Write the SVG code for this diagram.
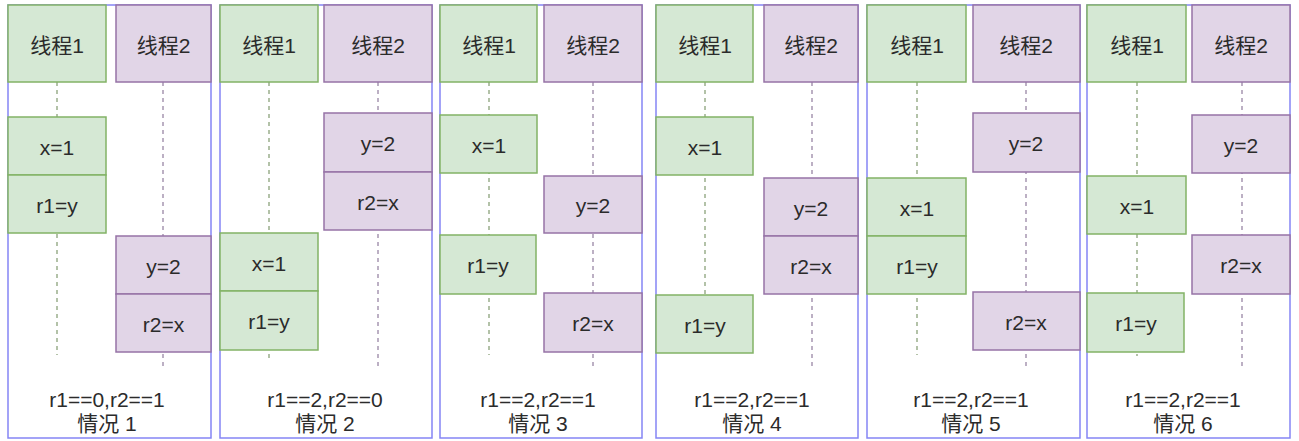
<svg xmlns="http://www.w3.org/2000/svg" width="1299" height="441" viewBox="0 0 1299 441">
  <style>
    text { font-family: "Liberation Sans", "Noto Sans CJK SC", sans-serif; fill: #2b2b2b; text-anchor: middle; dominant-baseline: central; }
    .hdr { font-size: 21px; }
    .op { font-size: 21px; }
    .res { font-size: 21px; }
    .frame { fill: #ffffff; stroke: #8585f5; stroke-width: 1.5; }
    .t1 { fill: #d5e8d4; stroke: #82b366; stroke-width: 1.5; }
    .t2 { fill: #e1d5e7; stroke: #9673a6; stroke-width: 1.5; }
    .life1 { fill: none; stroke: #9aae8c; stroke-width: 1.5; stroke-dasharray: 4 4; }
    .life2 { fill: none; stroke: #a796b1; stroke-width: 1.5; stroke-dasharray: 4 4; }
  </style>
  <rect width="1299" height="441" fill="#ffffff"/>

  <!-- case frames -->
  <g id="frames">
    <rect class="frame" x="8" y="5" width="203" height="433"/>
    <rect class="frame" x="220" y="5" width="212" height="433"/>
    <rect class="frame" x="440" y="5" width="202" height="433"/>
    <rect class="frame" x="656" y="5" width="202" height="433"/>
    <rect class="frame" x="867" y="5" width="213" height="433"/>
    <rect class="frame" x="1087" y="5" width="203" height="433"/>
  </g>

  <!-- lifelines -->
  <g id="connectors">
    <line class="life1" x1="57" y1="82" x2="57" y2="355"/>
    <line class="life2" x1="163" y1="82" x2="163" y2="368"/>
    <line class="life1" x1="269" y1="82" x2="269" y2="358"/>
    <line class="life2" x1="378" y1="82" x2="378" y2="368"/>
    <line class="life1" x1="489" y1="82" x2="489" y2="355"/>
    <line class="life2" x1="593" y1="82" x2="593" y2="368"/>
    <line class="life1" x1="705" y1="82" x2="705" y2="353"/>
    <line class="life2" x1="812" y1="82" x2="812" y2="368"/>
    <line class="life1" x1="917" y1="82" x2="917" y2="355"/>
    <line class="life2" x1="1026" y1="82" x2="1026" y2="368"/>
    <line class="life1" x1="1137" y1="82" x2="1137" y2="356"/>
    <line class="life2" x1="1242" y1="82" x2="1242" y2="368"/>
  </g>

  <!-- case 1 -->
  <g id="case1">
    <g id="c1-thread1"><rect class="t1" x="8" y="5" width="98" height="77"/><text class="hdr" x="57" y="45">线程1</text></g>
    <g id="c1-thread2"><rect class="t2" x="116" y="5" width="95" height="77"/><text class="hdr" x="163.5" y="45">线程2</text></g>
    <g id="c1-x1"><rect class="t1" x="8" y="117" width="98" height="58"/><text class="op" x="57" y="147">x=1</text></g>
    <g id="c1-r1y"><rect class="t1" x="8" y="175" width="98" height="58"/><text class="op" x="57" y="205">r1=y</text></g>
    <g id="c1-y2"><rect class="t2" x="116" y="236" width="95" height="58"/><text class="op" x="163.5" y="266">y=2</text></g>
    <g id="c1-r2x"><rect class="t2" x="116" y="294" width="95" height="58"/><text class="op" x="163.5" y="324">r2=x</text></g>
    <g id="c1-result"><text class="res" x="107" y="399">r1==0,r2==1</text><text class="res" x="107" y="423">情况 1</text></g>
  </g>

  <!-- case 2 -->
  <g id="case2">
    <g id="c2-thread1"><rect class="t1" x="220" y="5" width="98" height="77"/><text class="hdr" x="269" y="45">线程1</text></g>
    <g id="c2-thread2"><rect class="t2" x="324" y="5" width="108" height="77"/><text class="hdr" x="378" y="45">线程2</text></g>
    <g id="c2-y2"><rect class="t2" x="324" y="113" width="108" height="59"/><text class="op" x="378" y="143">y=2</text></g>
    <g id="c2-r2x"><rect class="t2" x="324" y="172" width="108" height="58"/><text class="op" x="378" y="202">r2=x</text></g>
    <g id="c2-x1"><rect class="t1" x="220" y="233" width="98" height="58"/><text class="op" x="269" y="263">x=1</text></g>
    <g id="c2-r1y"><rect class="t1" x="220" y="291" width="98" height="59"/><text class="op" x="269" y="321">r1=y</text></g>
    <g id="c2-result"><text class="res" x="325" y="399">r1==2,r2==0</text><text class="res" x="325" y="423">情况 2</text></g>
  </g>

  <!-- case 3 -->
  <g id="case3">
    <g id="c3-thread1"><rect class="t1" x="440" y="5" width="97" height="77"/><text class="hdr" x="489" y="45">线程1</text></g>
    <g id="c3-thread2"><rect class="t2" x="544" y="5" width="98" height="77"/><text class="hdr" x="593" y="45">线程2</text></g>
    <g id="c3-x1"><rect class="t1" x="440" y="115" width="97" height="58"/><text class="op" x="489" y="145">x=1</text></g>
    <g id="c3-y2"><rect class="t2" x="544" y="176" width="98" height="57"/><text class="op" x="593" y="205">y=2</text></g>
    <g id="c3-r1y"><rect class="t1" x="440" y="235" width="96" height="59"/><text class="op" x="488" y="265">r1=y</text></g>
    <g id="c3-r2x"><rect class="t2" x="544" y="293" width="98" height="59"/><text class="op" x="593" y="323">r2=x</text></g>
    <g id="c3-result"><text class="res" x="538" y="399">r1==2,r2==1</text><text class="res" x="538" y="423">情况 3</text></g>
  </g>

  <!-- case 4 -->
  <g id="case4">
    <g id="c4-thread1"><rect class="t1" x="656" y="5" width="97" height="77"/><text class="hdr" x="705" y="45">线程1</text></g>
    <g id="c4-thread2"><rect class="t2" x="764" y="5" width="94" height="77"/><text class="hdr" x="811" y="45">线程2</text></g>
    <g id="c4-x1"><rect class="t1" x="656" y="117" width="97" height="58"/><text class="op" x="705" y="147">x=1</text></g>
    <g id="c4-y2"><rect class="t2" x="764" y="178" width="94" height="58"/><text class="op" x="811" y="208">y=2</text></g>
    <g id="c4-r2x"><rect class="t2" x="764" y="236" width="94" height="58"/><text class="op" x="811" y="266">r2=x</text></g>
    <g id="c4-r1y"><rect class="t1" x="656" y="295" width="97" height="58"/><text class="op" x="705" y="325">r1=y</text></g>
    <g id="c4-result"><text class="res" x="752" y="399">r1==2,r2==1</text><text class="res" x="752" y="423">情况 4</text></g>
  </g>

  <!-- case 5 -->
  <g id="case5">
    <g id="c5-thread1"><rect class="t1" x="867" y="5" width="99" height="77"/><text class="hdr" x="917" y="45">线程1</text></g>
    <g id="c5-thread2"><rect class="t2" x="973" y="5" width="107" height="77"/><text class="hdr" x="1026" y="45">线程2</text></g>
    <g id="c5-y2"><rect class="t2" x="973" y="113" width="107" height="59"/><text class="op" x="1026" y="143">y=2</text></g>
    <g id="c5-x1"><rect class="t1" x="867" y="178" width="99" height="58"/><text class="op" x="917" y="208">x=1</text></g>
    <g id="c5-r1y"><rect class="t1" x="867" y="236" width="99" height="58"/><text class="op" x="917" y="266">r1=y</text></g>
    <g id="c5-r2x"><rect class="t2" x="973" y="292" width="107" height="58"/><text class="op" x="1026" y="322">r2=x</text></g>
    <g id="c5-result"><text class="res" x="971" y="399">r1==2,r2==1</text><text class="res" x="971" y="423">情况 5</text></g>
  </g>

  <!-- case 6 -->
  <g id="case6">
    <g id="c6-thread1"><rect class="t1" x="1087" y="5" width="99" height="77"/><text class="hdr" x="1137" y="45">线程1</text></g>
    <g id="c6-thread2"><rect class="t2" x="1192" y="5" width="98" height="77"/><text class="hdr" x="1241" y="45">线程2</text></g>
    <g id="c6-y2"><rect class="t2" x="1192" y="115" width="98" height="58"/><text class="op" x="1241" y="145">y=2</text></g>
    <g id="c6-x1"><rect class="t1" x="1087" y="176" width="99" height="58"/><text class="op" x="1137" y="206">x=1</text></g>
    <g id="c6-r2x"><rect class="t2" x="1192" y="235" width="98" height="59"/><text class="op" x="1241" y="265">r2=x</text></g>
    <g id="c6-r1y"><rect class="t1" x="1087" y="293" width="97" height="59"/><text class="op" x="1136" y="323">r1=y</text></g>
    <g id="c6-result"><text class="res" x="1183" y="399">r1==2,r2==1</text><text class="res" x="1183" y="423">情况 6</text></g>
  </g>
</svg>
